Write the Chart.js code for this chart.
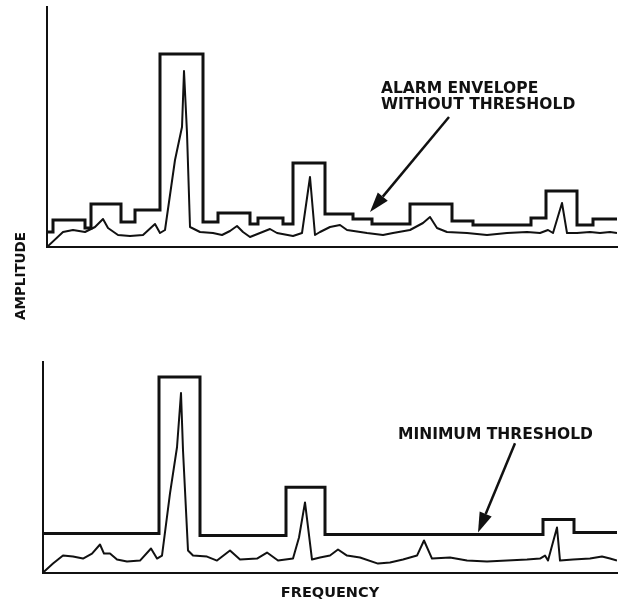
<!DOCTYPE html>
<html>
<head>
<meta charset="utf-8">
<script src="https://cdn.jsdelivr.net/npm/chart.js@4/dist/chart.umd.min.js"></script>
<style>
  html, body { margin: 0; padding: 0; background: #fff; }
  #wrap { position: relative; width: 619px; height: 603px; overflow: hidden; background: #fff; }
  #topChart { position: absolute; left: 0; top: 0; }
  #bottomChart { position: absolute; left: 0; top: 300px; }
  #ylab {
    position: absolute; left: 20px; top: 276px;
    transform: translate(-50%, -50%) rotate(-90deg);
    font: bold 13.5px "DejaVu Sans", sans-serif; color: #111; white-space: nowrap;
  }
</style>
</head>
<body>
<div id="wrap">
  <canvas id="topChart" width="619" height="300"></canvas>
  <canvas id="bottomChart" width="619" height="303"></canvas>
  <div id="ylab">AMPLITUDE</div>
</div>
<script>
// ---- Upper panel: spectrum with an alarm envelope that follows the noise floor ----
const topSpectrumFreq = [0, 16, 26, 38, 48, 56, 61, 71, 83, 96, 108, 113, 118, 128, 135, 137, 140, 143, 153, 166,
  175, 183, 190, 196, 203, 213, 223, 230, 246, 255, 263, 268, 273, 283, 293, 300, 320, 336, 346, 363,
  376, 383, 390, 400, 420, 440, 460, 480, 493, 501, 506, 515, 520, 530, 543, 553, 563, 570];
const topSpectrumAmp = [0, 15, 17, 15, 20, 28, 19, 12, 11, 12, 23, 14, 17, 87, 120, 176, 114, 20, 15, 14,
  12, 16, 21, 15, 10, 14, 18, 14, 11, 14, 70, 12, 15, 20, 22, 17, 14, 12, 14, 17,
  24, 30, 19, 15, 14, 12, 14, 15, 14, 17, 14, 44, 14, 14, 15, 14, 15, 14];

// envelope band starts and their alarm levels
const topEnvelopeFreq = [0, 6, 38, 44, 74, 88, 113, 156, 171, 203, 211, 236, 246, 278, 306, 325, 363, 405,
  426, 484, 499, 530, 546, 570];
const topEnvelopeLevel = [15, 27, 19, 43, 25, 37, 193, 25, 34, 23, 29, 23, 84, 33, 28, 23, 43, 26,
  22, 29, 56, 22, 28, 28];

// ---- Lower panel: same spectrum, envelope clamped to a minimum threshold ----
const bottomSpectrumFreq = [0, 10, 20, 30, 40, 49, 57, 61, 67, 74, 84, 97, 108, 114, 119, 127, 134, 138, 140, 145,
  150, 164, 174, 187, 197, 214, 224, 235, 250, 256, 262, 269, 277, 287, 295, 304, 317, 335, 347, 360,
  374, 381, 389, 407, 424, 444, 464, 484, 497, 502, 505, 514, 517, 530, 547, 559, 567, 574];
const bottomSpectrumAmp = [0, 9, 17, 16, 14, 19, 28, 19, 19, 13, 11, 12, 24, 14, 17, 79, 125, 179, 122, 22,
  17, 16, 12, 22, 13, 14, 20, 12, 14, 35, 70, 13, 15, 17, 23, 17, 15, 9, 10, 13,
  17, 32, 14, 15, 12, 11, 12, 13, 14, 17, 12, 45, 12, 13, 14, 16, 14, 12];

const bottomEnvelopeFreq = [0, 116, 157, 243, 282, 500, 531, 574];
const bottomEnvelopeLevel = [39, 195, 37, 85, 38, 53, 40, 40];

const axisRange = { top: { f: 570, a: 240 }, bottom: { f: 574, a: 210 } };

const ink = '#111';

function toPoints(xs, ys) {
  return xs.map((x, i) => ({ x, y: ys[i] }));
}

// Callout text plus an arrow pointing at the envelope
function callout(id, cfg) {
  return {
    id,
    afterDatasetsDraw(chart) {
      const { ctx, scales: { x, y } } = chart;
      ctx.save();
      ctx.fillStyle = ink;
      ctx.strokeStyle = ink;
      ctx.font = 'bold 15.5px "DejaVu Sans", sans-serif';
      ctx.textAlign = 'left';
      ctx.textBaseline = 'alphabetic';
      const tx = x.getPixelForValue(cfg.text[0]);
      const ty = y.getPixelForValue(cfg.text[1]);
      cfg.lines.forEach((line, i) => ctx.fillText(line, tx, ty + i * 16));

      const x0 = x.getPixelForValue(cfg.tail[0]), y0 = y.getPixelForValue(cfg.tail[1]);
      const x1 = x.getPixelForValue(cfg.tip[0]), y1 = y.getPixelForValue(cfg.tip[1]);
      const ang = Math.atan2(y1 - y0, x1 - x0);
      const headLen = 20, headHalf = 6.5;
      const bx = x1 - headLen * Math.cos(ang), by = y1 - headLen * Math.sin(ang);
      ctx.lineWidth = 2.5;
      ctx.beginPath();
      ctx.moveTo(x0, y0);
      ctx.lineTo(bx, by);
      ctx.stroke();
      ctx.beginPath();
      ctx.moveTo(x1, y1);
      ctx.lineTo(bx + headHalf * Math.sin(ang), by - headHalf * Math.cos(ang));
      ctx.lineTo(bx - headHalf * Math.sin(ang), by + headHalf * Math.cos(ang));
      ctx.closePath();
      ctx.fill();
      ctx.restore();
    }
  };
}

function axis(max, extra) {
  return Object.assign({
    type: 'linear',
    min: 0,
    max,
    display: true,
    ticks: { display: false },
    grid: { display: false, drawTicks: false },
    border: { display: true, color: ink, width: 2 }
  }, extra || {});
}

function panel(canvasId, spec, env, range, padding, xTitle, plugin) {
  return new Chart(document.getElementById(canvasId), {
    type: 'line',
    data: {
      datasets: [
        {
          label: 'Alarm envelope',
          data: env,
          stepped: 'before',
          borderColor: ink,
          borderWidth: 3,
          borderJoinStyle: 'miter',
          pointRadius: 0,
          fill: false
        },
        {
          label: 'Spectrum',
          data: spec,
          borderColor: ink,
          borderWidth: 2,
          borderJoinStyle: 'round',
          tension: 0,
          pointRadius: 0,
          fill: false
        }
      ]
    },
    options: {
      responsive: false,
      animation: false,
      events: [],
      layout: { padding },
      plugins: { legend: { display: false }, tooltip: { enabled: false } },
      scales: {
        x: axis(range.f, xTitle ? {
          title: {
            display: true, text: xTitle, color: ink,
            font: { family: '"DejaVu Sans", sans-serif', size: 14.5, weight: 'bold' },
            padding: { top: 12, bottom: 1 }
          }
        } : {}),
        y: axis(range.a)
      }
    },
    plugins: [plugin]
  });
}

panel('topChart',
  toPoints(topSpectrumFreq, topSpectrumAmp),
  toPoints(topEnvelopeFreq, topEnvelopeLevel),
  axisRange.top,
  { left: 47, right: 2, top: 7, bottom: 53 },
  null,
  callout('alarmCallout', {
    lines: ['ALARM ENVELOPE', 'WITHOUT THRESHOLD'],
    text: [334, 154], tail: [402, 130], tip: [323, 35]
  }));

panel('bottomChart',
  toPoints(bottomSpectrumFreq, bottomSpectrumAmp),
  toPoints(bottomEnvelopeFreq, bottomEnvelopeLevel),
  axisRange.bottom,
  { left: 43, right: 2, top: 62, bottom: 0 },
  'FREQUENCY',
  callout('thresholdCallout', {
    lines: ['MINIMUM THRESHOLD'],
    text: [355, 133], tail: [472, 129], tip: [435, 40]
  }));
</script>
</body>
</html>
